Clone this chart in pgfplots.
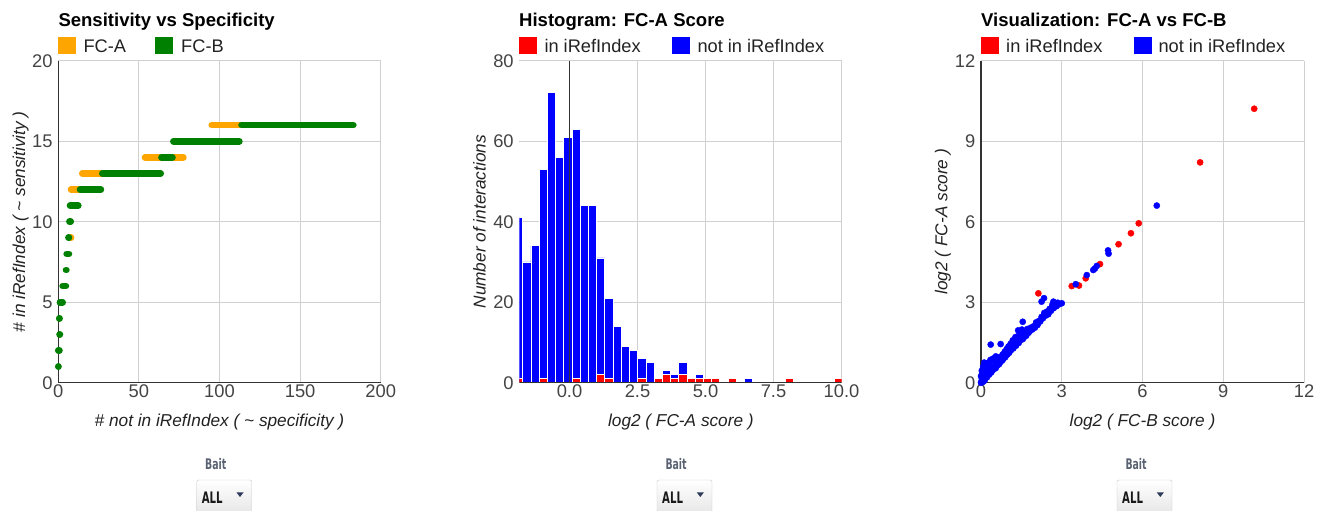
\documentclass[border=0pt]{standalone}
\usepackage{pgfplots}
\pgfplotsset{compat=1.18}
\usepackage{fontspec}
\setmainfont{Liberation Sans}
\newfontfamily\narrowfont[FakeStretch=0.64]{DejaVu Sans}
\definecolor{gFCA}{HTML}{FFA500}
\definecolor{gFCB}{HTML}{008000}
\definecolor{gridc}{HTML}{D0D0D0}
\definecolor{basec}{HTML}{333333}
\definecolor{tickc}{HTML}{444444}
\definecolor{titlec}{HTML}{222222}
\definecolor{gred}{HTML}{FF0000}
\definecolor{gblue}{HTML}{0000FF}
\definecolor{baitc}{HTML}{5A6272}
\definecolor{arrowc}{HTML}{2E3A59}
\newcommand{\ticksize}{\fontsize{18.4}{20}\selectfont}
\newcommand{\titlefont}{\bfseries\fontsize{18.6}{20}\selectfont}
\newcommand{\legfont}{\fontsize{18.3}{20}\selectfont}
\newcommand{\labfont}{\itshape\fontsize{17.3}{19}\selectfont}
\pgfplotsset{
  gbase/.style={
    scale only axis, anchor=south west, height=322bp,
    grid=major, major grid style={gridc, line width=1bp},
    tick style={draw=none}, major tick length=0pt,
    ticklabel style={font=\ticksize, text=tickc},
    /pgf/number format/assume math mode=true,
    xticklabel style={anchor=north, inner sep=0pt, yshift=-2.3bp},
    yticklabel style={anchor=east, inner sep=0pt, xshift=-5.6bp},
  },
  gchart/.style={gbase,
    axis x line*=bottom, axis y line*=left,
    axis line style={basec, line width=1.5bp, -},
  }
}
\begin{document}
\begin{tikzpicture}
\path[use as bounding box] (0bp,0bp) rectangle (1318bp,511bp);

% ---------------- Panel 1 ----------------
\begin{axis}[gchart, at={(58.3bp,128.3bp)}, width=322.4bp,
  xmin=0, xmax=200, ymin=0, ymax=20,
  xtick={0,50,100,150,200}, ytick={0,5,10,15,20},
  clip=false, unbounded coords=jump]
\addplot[gFCA, line width=6.7bp, line cap=round] coordinates {
 (95.2,16) (113,16) (nan,nan)
 (53.8,14) (77.6,14) (nan,nan)
 (14.9,13) (28,13) (nan,nan)
 (7.9,12) (13.5,12) (nan,nan)
 (7.6,9) (7.9,9)
};
\addplot[gFCB, line width=6.7bp, line cap=round] coordinates {
 (113.7,16) (183,16) (nan,nan)
 (71.4,15) (112.3,15) (nan,nan)
 (64,14) (70.8,14) (nan,nan)
 (27.3,13) (63.5,13) (nan,nan)
 (13.5,12) (26.4,12) (nan,nan)
 (7.3,11) (12.4,11) (nan,nan)
 (6.9,10) (7.7,10) (nan,nan)
 (6.3,9) (6.6,9) (nan,nan)
 (5.2,8) (6.6,8) (nan,nan)
 (4.8,7) (5.0,7) (nan,nan)
 (2.7,6) (4.7,6) (nan,nan)
 (1.0,5) (2.7,5) (nan,nan)
 (0.6,4) (0.8,4) (nan,nan)
 (0.8,3) (1.0,3) (nan,nan)
 (0.0,2) (0.7,2) (nan,nan)
 (0.0,1) (0.1,1)
};
\end{axis}

% ---------------- Panel 2 ----------------
\begin{axis}[gbase, at={(519.45bp,128.3bp)}, width=322.05bp,
  axis lines=box, axis line style={draw=none},
  xmin=-1.84, xmax=10, ymin=0, ymax=80,
  xtick={0,2.5,5,7.5,10}, ytick={0,20,40,60,80},
  xticklabel style={/pgf/number format/fixed, /pgf/number format/fixed zerofill, /pgf/number format/precision=1},
  clip=true]
\addplot[ybar, bar width=0.302, bar shift=0pt, fill=gblue, draw=white, line width=0.8bp] coordinates {
 (-1.871,41) (-1.569,30) (-1.267,34) (-0.965,53) (-0.663,72) (-0.361,56)
 (-0.059,61) (0.243,63) (0.545,44) (0.847,44) (1.149,31) (1.451,21)
 (1.753,14) (2.055,9) (2.357,8) (2.659,6) (2.961,5) (3.565,3)
 (3.867,2) (4.169,5) (4.773,2) (6.585,1)
};
\addplot[ybar, bar width=0.302, bar shift=0pt, fill=gred, draw=white, line width=0.8bp] coordinates {
 (-1.871,1) (-0.965,1) (0.243,1) (1.149,2) (1.451,1) (2.659,1)
 (3.263,1) (3.565,2) (3.867,1) (4.169,2) (4.471,1) (4.773,1)
 (5.075,1) (5.377,1) (5.981,1) (8.095,1) (9.907,1)
};
\draw[basec, line width=1.5bp] (axis cs:-1.84,0) -- (axis cs:10,0);
\draw[basec, line width=1.2bp] (axis cs:0,0) -- (axis cs:0,80);
\end{axis}

% ---------------- Panel 3 ----------------
\begin{axis}[gchart, at={(981bp,128.3bp)}, width=323bp,
  xmin=0, xmax=12, ymin=0, ymax=12,
  xtick={0,3,6,9,12}, ytick={0,3,6,9,12}, clip=false]
\addplot[gred, only marks, mark=*, mark size=3.1bp, mark options={solid, draw=gred, fill=gred}] coordinates {
 (10.15,10.21) (8.14,8.21) (5.86,5.94) (5.57,5.57) (5.11,5.16) (4.42,4.42)
 (3.89,3.89) (3.37,3.60) (3.64,3.62) (2.13,3.33) (2.62,2.80)
};
\addplot[gblue, only marks, mark=*, mark size=3.1bp, mark options={solid, draw=gblue, fill=gblue}] coordinates {
 (0.00,0.00) (0.02,0.05) (0.05,0.02) (0.03,0.15) (0.08,0.10) (0.10,0.05)
 (0.00,0.25) (0.05,0.30) (0.12,0.18) (0.15,0.12) (0.18,0.25) (0.10,0.40)
 (0.20,0.35) (0.22,0.20) (0.25,0.30) (0.15,0.55) (0.28,0.45) (0.30,0.30)
 (0.32,0.40) (0.20,0.70) (0.30,0.75) (0.35,0.50) (0.38,0.38) (0.40,0.60)
 (0.42,0.45) (0.45,0.55) (0.25,0.62) (0.48,0.50) (0.50,0.80) (0.52,0.60)
 (0.55,0.55) (0.58,0.70) (0.60,0.95) (0.62,0.65) (0.65,0.75) (0.68,0.70)
 (0.70,0.85) (0.45,0.90) (0.55,0.98) (0.35,0.85) (0.03,0.45) (0.08,0.60)
 (0.12,0.75) (0.06,0.35)
 (0.72,0.78) (0.75,0.95) (0.78,0.82) (0.80,1.05) (0.82,0.88) (0.85,0.92)
 (0.88,1.15) (0.90,0.95) (0.92,1.02) (0.95,1.25) (0.98,1.05) (1.00,1.10)
 (1.02,1.35) (1.05,1.12) (1.08,1.20) (1.10,1.45) (1.12,1.22) (1.15,1.30)
 (1.18,1.58) (1.20,1.28) (1.25,1.40) (1.28,1.70) (1.30,1.38) (1.35,1.50)
 (1.38,1.95) (1.40,1.48) (1.42,1.80) (1.45,1.58) (1.50,1.65) (1.52,1.98)
 (1.55,1.62) (1.58,1.75) (1.60,1.70)
 (1.65,1.85) (1.68,1.75) (1.72,2.00) (1.75,1.85) (1.80,1.90) (1.85,2.05)
 (1.90,1.98) (1.95,2.10) (2.00,2.05) (2.05,2.25) (2.10,2.15) (2.15,2.30)
 (2.20,2.28) (2.25,2.45) (2.30,2.40) (2.35,2.60) (2.40,2.50) (2.45,2.65)
 (2.50,2.55) (2.55,2.75) (2.60,2.68) (2.65,2.90) (2.70,2.78) (2.75,2.95)
 (2.80,2.85) (2.85,2.98) (2.90,2.92) (3.00,2.96) (2.69,3.02) (2.34,3.15)
 (2.25,3.02)
 (0.36,1.42) (0.73,1.44) (1.55,2.27)
 (3.52,3.67) (3.93,4.01) (4.17,4.20) (4.23,4.25) (4.30,4.35) (4.72,4.93)
 (4.74,4.81) (6.53,6.60)
};
\end{axis}

% ---------------- Titles ----------------
\node[anchor=base west, inner sep=0pt, font=\titlefont] at (58.3bp,484.3bp) {Sensitivity vs Specificity};
\node[anchor=base west, inner sep=0pt, font=\titlefont] at (519bp,484.3bp) {Histogram: FC-A Score};
\node[anchor=base west, inner sep=0pt, font=\titlefont] at (981bp,484.3bp) {Visualization: FC-A vs FC-B};

% ---------------- Legends ----------------
\fill[gFCA] (58.3bp,457bp) rectangle (76bp,474bp);
\node[anchor=base west, inner sep=0pt, font=\legfont, text=titlec] at (83.3bp,458.7bp) {FC-A};
\fill[gFCB] (155bp,457bp) rectangle (173bp,474bp);
\node[anchor=base west, inner sep=0pt, font=\legfont, text=titlec] at (181bp,458.7bp) {FC-B};

\fill[gred] (519bp,457bp) rectangle (537bp,474bp);
\node[anchor=base west, inner sep=0pt, font=\legfont, text=titlec] at (544.3bp,458.7bp) {in iRefIndex};
\fill[gblue] (671.7bp,457bp) rectangle (689.7bp,474bp);
\node[anchor=base west, inner sep=0pt, font=\legfont, text=titlec] at (697.3bp,458.7bp) {not in iRefIndex};

\fill[gred] (981bp,457bp) rectangle (999bp,474bp);
\node[anchor=base west, inner sep=0pt, font=\legfont, text=titlec] at (1006bp,458.7bp) {in iRefIndex};
\fill[gblue] (1134.3bp,457bp) rectangle (1152.3bp,474bp);
\node[anchor=base west, inner sep=0pt, font=\legfont, text=titlec] at (1158.3bp,458.7bp) {not in iRefIndex};

% ---------------- Axis titles ----------------
\node[anchor=base, inner sep=0pt, font=\labfont, text=titlec] at (219.5bp,84bp) {\# not in iRefIndex ( \textasciitilde{} specificity )};
\node[anchor=base, inner sep=0pt, font=\labfont, text=titlec] at (680.9bp,84bp) {log2 ( FC-A score )};
\node[anchor=base, inner sep=0pt, font=\labfont, text=titlec] at (1142.5bp,84bp) {log2 ( FC-B score )};
\node[anchor=base, rotate=90, inner sep=0pt, font=\labfont, text=titlec] at (25.2bp,289.3bp) {\# in iRefIndex ( \textasciitilde{} sensitivity )};
\node[anchor=base, rotate=90, inner sep=0pt, font=\labfont, text=titlec] at (485.7bp,289.3bp) {Number of interactions};
\node[anchor=base, rotate=90, inner sep=0pt, font=\labfont, text=titlec] at (947.3bp,289.3bp) {log2 ( FC-A score )};

% ---------------- Bait selectors ----------------
\foreach \bx in {196.7,657,1117}{
  \node[anchor=base west, inner sep=0pt, text=baitc, font=\narrowfont\bfseries\fontsize{14.7}{16}\selectfont] at (\bx bp+8.3bp,41bp) {Bait};
  \shade[top color=white, bottom color=black!10, draw=black!22, rounded corners=2bp] (\bx bp,-4bp) rectangle (\bx bp+55bp,31bp);
  \node[anchor=base west, inner sep=0pt, text=black!90, font=\narrowfont\bfseries\fontsize{15.9}{17}\selectfont] at (\bx bp+5bp,7.7bp) {ALL};
  \fill[arrowc] (\bx bp+39.8bp,18.5bp) -- (\bx bp+46.8bp,18.5bp) -- (\bx bp+43.3bp,14bp) -- cycle;
}
\end{tikzpicture}
\end{document}
